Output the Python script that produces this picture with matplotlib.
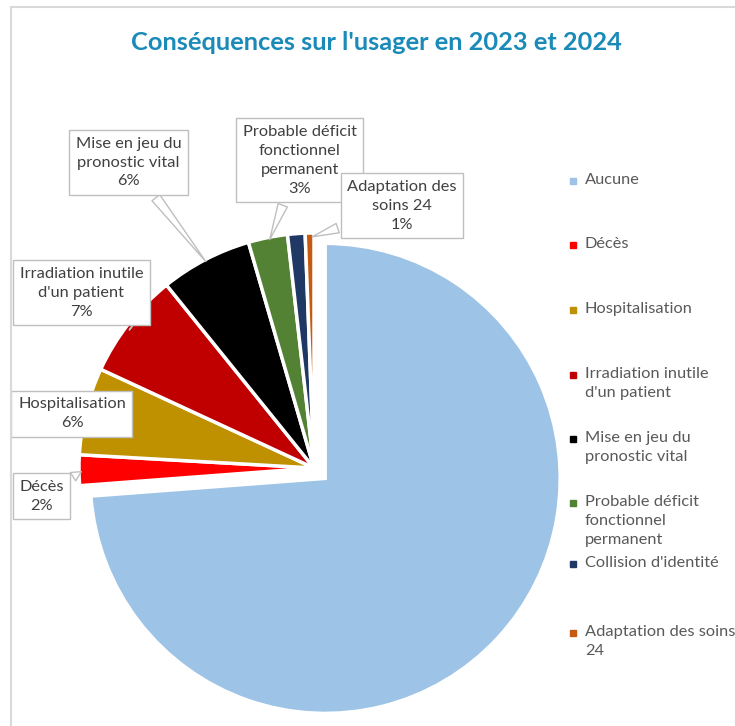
import numpy as np
import matplotlib.pyplot as plt
from matplotlib.lines import Line2D

# --- data ---
categories = ["Aucune", "Décès", "Hospitalisation", "Irradiation inutile d'un patient",
              "Mise en jeu du pronostic vital", "Probable déficit fonctionnel permanent",
              "Collision d'identité", "Adaptation des soins 24"]
shares = [73.8, 2.1, 6.0, 7.3, 6.3, 2.7, 1.2, 0.6]
colors = ["#9DC3E6", "#FF0000", "#BF9000", "#C00000", "#000000", "#548235", "#203864", "#C55A11"]

label_names = [None, "Décès", "Hospitalisation", "Irradiation inutile\nd'un patient",
               "Mise en jeu du\npronostic vital", "Probable déficit\nfonctionnel\npermanent",
               None, "Adaptation des\nsoins 24"]
legend_names = ["Aucune", "Décès", "Hospitalisation", "Irradiation inutile\nd'un patient",
                "Mise en jeu du\npronostic vital", "Probable déficit\nfonctionnel\npermanent",
                "Collision d'identité", "Adaptation des soins\n24"]

# label box positions (in pie radius units) and legend rows (pixels from top)
label_pos = [None, (-1.16, -0.12), (-1.03, 0.23), (-0.99, 0.745),
             (-0.79, 1.30), (-0.06, 1.31), None, (0.375, 1.115)]
legend_y = [181, 245, 310, 375, 439, 503, 564, 633]

plt.rcParams['font.family'] = ['Lato', 'DejaVu Sans']
W, H = 735, 726
fig = plt.figure(figsize=(W / 100, H / 100), dpi=100)

# pie axes: centre at (314, 468) px, radius 235 px
R = 235
cx, cy = 314, H - 468
lim = 1.45
side = 2 * lim * R
ax = fig.add_axes([(cx - side / 2) / W, (cy - side / 2) / H, side / W, side / H])

explode = [0.065] + [0] * (len(shares) - 1)
wedges, _ = ax.pie(shares, colors=colors, startangle=90, counterclock=False,
                   explode=explode, radius=1,
                   wedgeprops=dict(edgecolor='white', linewidth=2.5))
ax.set_xlim(-lim, lim)
ax.set_ylim(-lim, lim)
ax.set_aspect('equal')
ax.axis('off')

for w, name, val, pos in zip(wedges, label_names, shares, label_pos):
    if name is None:
        continue
    ang = np.deg2rad((w.theta1 + w.theta2) / 2)
    tip = (0.98 * np.cos(ang), 0.98 * np.sin(ang))
    ax.annotate(f"{name}\n{val:.0f}%", xy=tip, xytext=pos,
                ha='center', va='center', fontsize=11.8, color='#404040',
                linespacing=1.45,
                bbox=dict(boxstyle='square,pad=0.4', fc='white', ec='#BFBFBF', lw=1),
                arrowprops=dict(arrowstyle='wedge,tail_width=0.6,shrink_factor=0.5',
                                fc='white', ec='#BFBFBF', lw=1))

# title
fig.text(376 / W, 1 - 42 / H, "Conséquences sur l'usager en 2023 et 2024",
         ha='center', va='center', fontsize=18.3, fontweight='bold', color='#1A8AB8')

# legend
for name, col, y in zip(legend_names, colors, legend_y):
    fig.add_artist(Line2D([573 / W], [1 - y / H], marker='s', markersize=5,
                          color=col, transform=fig.transFigure))
    fig.text(585 / W, 1 - (y - 8) / H, name, ha='left', va='top',
             fontsize=11.8, color='#595959', linespacing=1.45)

# chart frame (left and top edges visible)
fig.add_artist(Line2D([11 / W, 11 / W], [0, 1 - 7 / H], color='#D9D9D9', lw=1.5,
                      transform=fig.transFigure))
fig.add_artist(Line2D([11 / W, 1], [1 - 7 / H, 1 - 7 / H], color='#D9D9D9', lw=1.5,
                      transform=fig.transFigure))

fig.savefig("out.png", dpi=100)
